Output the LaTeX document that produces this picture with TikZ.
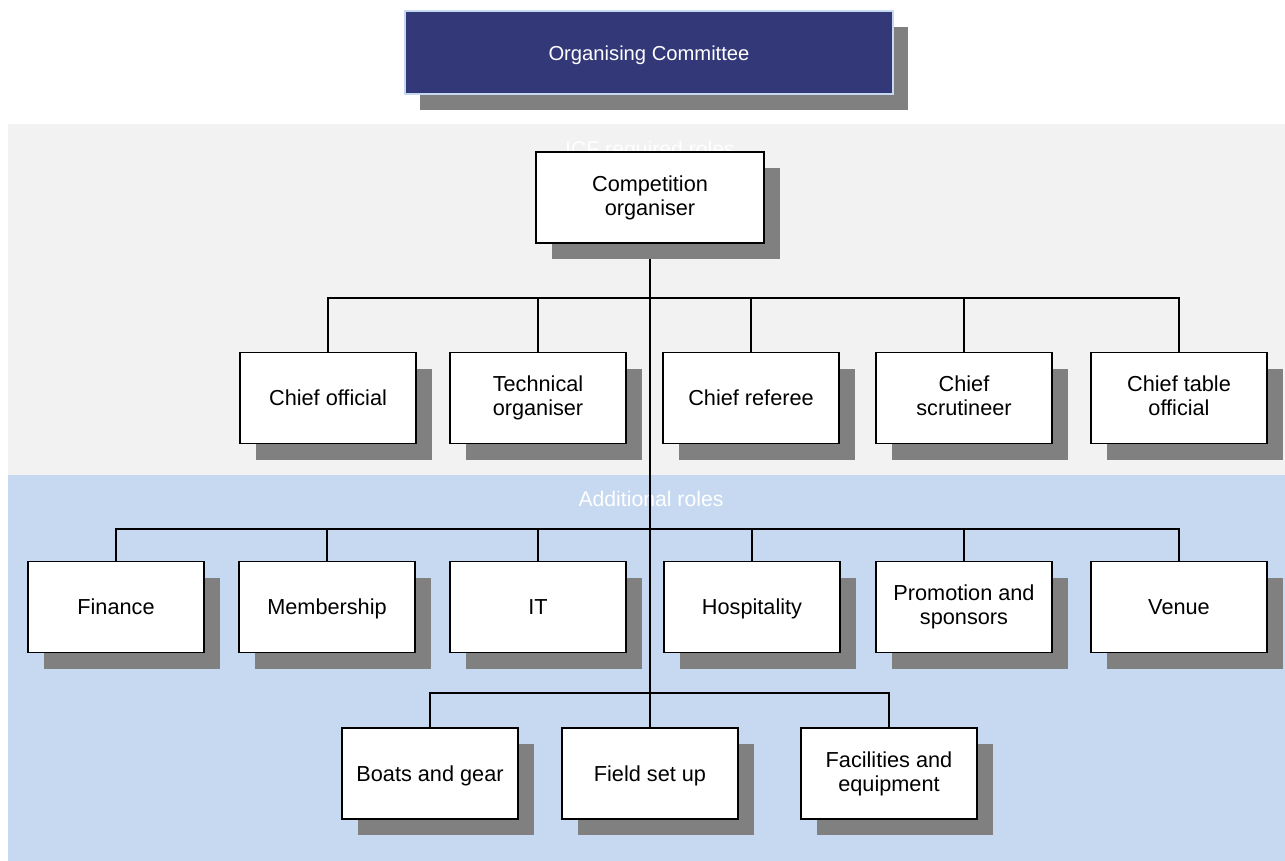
\documentclass[tikz,border=0pt]{standalone}
\usepackage{fontspec}
\setmainfont{Liberation Sans}
\usetikzlibrary{shadows}
\definecolor{navy}{HTML}{333878}
\definecolor{bandgray}{HTML}{F2F2F2}
\definecolor{bandblue}{HTML}{C6D9F0}
\definecolor{shadowgray}{HTML}{808080}
\newcommand\boxstrut{\rule[-4.3pt]{0pt}{24pt}}
\tikzset{
  role/.style={draw=black, line width=1.6pt, fill=white, minimum width=176pt, minimum height=91pt,
    inner sep=0pt, align=center, font=\fontsize{21.7}{24}\selectfont,
    execute at begin node=\boxstrut, execute at end node=\boxstrut,
    drop shadow={shadow xshift=16pt, shadow yshift=-16pt, opacity=1, fill=shadowgray}},
  topbox/.style={draw=bandblue, line width=1.2pt, fill=navy, text=white, minimum width=488pt, minimum height=83pt,
    inner sep=0pt, font=\fontsize{20.2}{24}\selectfont, execute at begin node=\boxstrut,
    drop shadow={shadow xshift=15pt, shadow yshift=-16pt, opacity=1, fill=shadowgray}},
  bandlabel/.style={text=white, font=\fontsize{21.2}{24}\selectfont, inner sep=0pt, execute at begin node=\boxstrut},
  link/.style={line width=1.6pt, draw=black},
  trunk/.style={line width=2.2pt, draw=black}
}
\begin{document}
\begin{tikzpicture}[x=1pt, y=-1pt]
\useasboundingbox (0,0) rectangle (1285,861);
% bands
\fill[bandgray] (8,124) rectangle (1285,475);
\fill[bandblue] (8,475) rectangle (1285,861);
\node[bandlabel] (icf) at (650,149) {ICF required roles};
\node[bandlabel] (add) at (651,499) {Additional roles};
% top
\node[topbox] (oc) at (649,52.5) {Organising Committee};
% connectors drawn first (behind boxes)
\coordinate (cotop) at (650,243);
\coordinate (fstop) at (650,728);
\draw[trunk] (cotop) -- (fstop);
% row 1 bar
\draw[link] (328,352) -- (328,298) -- (1179,298) -- (1179,352);
\foreach \x in {538,751,964} \draw[link] (\x,298) -- (\x,352);
% row 2 bar
\draw[link] (116,561) -- (116,529) -- (1179,529) -- (1179,561);
\foreach \x in {327,538,752,964} \draw[link] (\x,529) -- (\x,561);
% row 3 bar
\draw[link] (430,728) -- (430,693) -- (889,693) -- (889,728);
% nodes
\node[role, minimum width=228pt] (co) at (650,197.5) {Competition\\organiser};
\node[role] (c1) at (328,398) {Chief official};
\node[role] (c2) at (538,398) {Technical\\organiser};
\node[role] (c3) at (751,398) {Chief referee};
\node[role] (c4) at (964,398) {Chief\\scrutineer};
\node[role] (c5) at (1179,398) {Chief table\\official};
\node[role] (a1) at (116,607) {Finance};
\node[role] (a2) at (327,607) {Membership};
\node[role] (a3) at (538,607) {IT};
\node[role] (a4) at (752,607) {Hospitality};
\node[role] (a5) at (964,607) {Promotion and\\sponsors};
\node[role] (a6) at (1179,607) {Venue};
\node[role] (s1) at (430,773.5) {Boats and gear};
\node[role] (s2) at (650,773.5) {Field set up};
\node[role] (s3) at (889,773.5) {Facilities and\\equipment};
\end{tikzpicture}
\end{document}
